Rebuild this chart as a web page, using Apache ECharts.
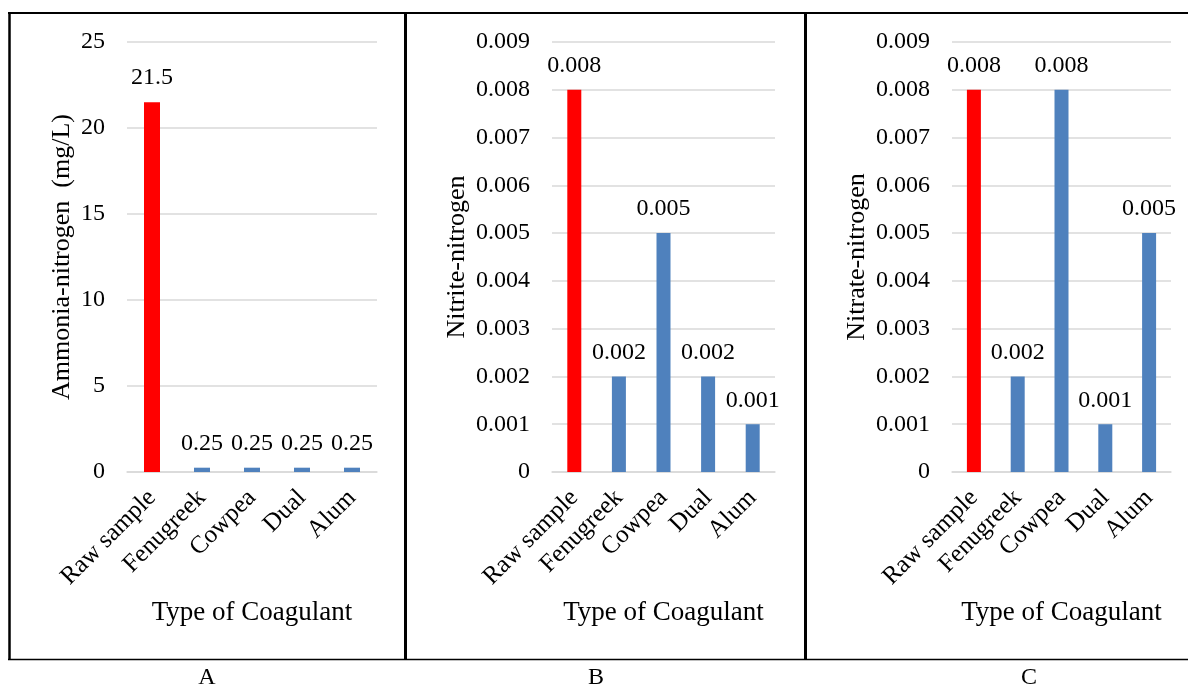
<!DOCTYPE html>
<html>
<head>
<meta charset="utf-8">
<script src="https://cdn.jsdelivr.net/npm/echarts@6/dist/echarts.min.js"></script>
<style>
  html, body { margin: 0; padding: 0; background: #fff; }
  #chart { width: 1188px; height: 686px; }
</style>
</head>
<body>
<div id="chart"></div>
<script>
// Coagulant categories shared by all three panels
const categories = ['Raw sample', 'Fenugreek', 'Cowpea', 'Dual', 'Alum'];

// Panel A: ammonia-nitrogen (mg/L)
const ammoniaValues = [21.5, 0.25, 0.25, 0.25, 0.25];
// Panel B: nitrite-nitrogen
const nitriteValues = [0.008, 0.002, 0.005, 0.002, 0.001];
// Panel C: nitrate-nitrogen
const nitrateValues = [0.008, 0.002, 0.008, 0.001, 0.005];

const panelLetters = ['A', 'B', 'C'];
const yTitles = ['Ammonia-nitrogen  (mg/L)', 'Nitrite-nitrogen', 'Nitrate-nitrogen'];
const xTitle = 'Type of Coagulant';

const RAW_COLOR = '#FF0000';
const TREAT_COLOR = '#4F81BD';
const GRID_COLOR = '#D9D9D9';
const FONT = '"Liberation Serif", "Times New Roman", serif';

const chart = echarts.init(document.getElementById('chart'), null, { renderer: 'canvas' });

const grids = [
  { left: 127, top: 42, width: 250, height: 430 },
  { left: 552, top: 42, width: 223, height: 430 },
  { left: 952, top: 42, width: 219, height: 430 }
];

const yAxisSpecs = [
  { max: 25, interval: 5, fmt: v => String(v), nameGap: 52 },
  { max: 0.009, interval: 0.001, fmt: v => (v === 0 ? '0' : v.toFixed(3)), nameGap: 82 },
  { max: 0.009, interval: 0.001, fmt: v => (v === 0 ? '0' : v.toFixed(3)), nameGap: 82 }
];

const seriesValues = [ammoniaValues, nitriteValues, nitrateValues];
const labelFmts = [v => String(v), v => v.toFixed(3), v => v.toFixed(3)];
const barWidths = [16, 14, 14];

const xAxes = grids.map((g, i) => ({
  type: 'category',
  gridIndex: i,
  data: categories,
  name: xTitle,
  nameLocation: 'middle',
  nameGap: 127,
  nameTextStyle: { color: '#000', fontSize: 27, fontFamily: FONT },
  axisLine: { show: true, lineStyle: { color: GRID_COLOR, width: 1.5 } },
  axisTick: { show: false },
  axisLabel: { rotate: 45, margin: 22, color: '#000', fontSize: 25, fontFamily: FONT, interval: 0 }
}));

const yAxes = yAxisSpecs.map((s, i) => ({
  type: 'value',
  gridIndex: i,
  min: 0,
  max: s.max,
  interval: s.interval,
  name: yTitles[i],
  nameLocation: 'middle',
  nameGap: s.nameGap,
  nameRotate: 90,
  nameTextStyle: { color: '#000', fontSize: 26, fontFamily: FONT },
  axisLine: { show: false },
  axisTick: { show: false },
  axisLabel: { margin: 22, color: '#000', fontSize: 24, fontFamily: FONT, formatter: s.fmt },
  splitLine: { show: true, lineStyle: { color: GRID_COLOR, width: 1.5 } }
}));

const series = seriesValues.map((vals, i) => ({
  type: 'bar',
  xAxisIndex: i,
  yAxisIndex: i,
  barWidth: barWidths[i],
  data: vals.map((v, j) => ({
    value: v,
    itemStyle: { color: j === 0 ? RAW_COLOR : TREAT_COLOR }
  })),
  label: {
    show: true,
    position: 'top',
    distance: 12,
    color: '#000',
    fontSize: 24,
    fontFamily: FONT,
    formatter: p => labelFmts[i](p.value)
  }
}));

// Panel frames and the letters under them
const graphic = [
  { type: 'line', shape: { x1: 8, y1: 13, x2: 1188, y2: 13 }, style: { stroke: '#000', lineWidth: 2 } },
  { type: 'line', shape: { x1: 8, y1: 659.5, x2: 1188, y2: 659.5 }, style: { stroke: '#000', lineWidth: 1.5 } },
  { type: 'line', shape: { x1: 9.5, y1: 12, x2: 9.5, y2: 660 }, style: { stroke: '#000', lineWidth: 2.5 } },
  { type: 'line', shape: { x1: 405.5, y1: 12, x2: 405.5, y2: 660 }, style: { stroke: '#000', lineWidth: 3 } },
  { type: 'line', shape: { x1: 805.5, y1: 12, x2: 805.5, y2: 660 }, style: { stroke: '#000', lineWidth: 3 } }
];
const letterX = [207, 596, 1029];
panelLetters.forEach((t, i) => {
  graphic.push({
    type: 'text',
    x: letterX[i],
    y: 678,
    style: { text: t, fill: '#000', font: '24px ' + FONT, textAlign: 'center', textVerticalAlign: 'middle' }
  });
});

chart.setOption({
  animation: false,
  backgroundColor: '#fff',
  grid: grids,
  xAxis: xAxes,
  yAxis: yAxes,
  series: series,
  graphic: graphic
});
</script>
</body>
</html>
